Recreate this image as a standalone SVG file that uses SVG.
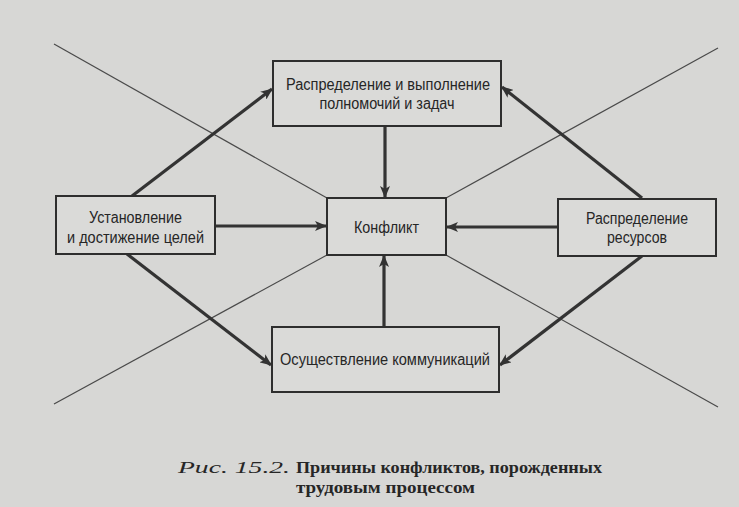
<svg xmlns="http://www.w3.org/2000/svg" width="739" height="507" viewBox="0 0 739 507">
<style>
.bg{fill:#d7d7d5}
.box{fill:#dadad8;stroke:#2e2e2e;stroke-width:2}
.t{font-family:"Liberation Sans","Arial",sans-serif;font-size:16px;fill:#262626;text-anchor:middle}
.x{stroke:#4a4a4a;stroke-width:1.2;fill:none}
.a{stroke:#333;stroke-width:3.2;fill:none;marker-end:url(#ah)}
.cap{font-family:"Liberation Serif","Times New Roman",serif;font-size:16px;fill:#262626}
</style>
<defs>
<marker id="ah" viewBox="0 0 12 10" refX="11" refY="5" markerWidth="12" markerHeight="10" markerUnits="userSpaceOnUse" orient="auto">
<path d="M0,0 L12,5 L0,10 L3,5 Z" fill="#333"/>
</marker>
</defs>
<rect class="bg" x="0" y="0" width="739" height="507"/>
<g id="cross">
<line class="x" x1="54" y1="44" x2="327" y2="198"/>
<line class="x" x1="718" y1="48" x2="446" y2="198"/>
<line class="x" x1="327" y1="255" x2="54" y2="404"/>
<line class="x" x1="446" y1="255" x2="718" y2="407"/>
</g>
<g id="connectors">
<line class="a" x1="132" y1="196" x2="272" y2="89"/>
<line class="a" x1="642" y1="198" x2="502" y2="87"/>
<line class="a" x1="385" y1="126" x2="385" y2="197"/>
<line class="a" x1="215" y1="226" x2="326" y2="226"/>
<line class="a" x1="558" y1="227" x2="447" y2="227"/>
<line class="a" x1="384" y1="327" x2="384" y2="256"/>
<line class="a" x1="127" y1="254" x2="271" y2="365"/>
<line class="a" x1="642" y1="256" x2="500" y2="365"/>
</g>
<g id="node-top">
<rect class="box" x="273" y="61" width="228" height="65"/>
<text class="t" x="388" y="90" textLength="204" lengthAdjust="spacingAndGlyphs">Распределение и выполнение</text>
<text class="t" x="387" y="109" textLength="135" lengthAdjust="spacingAndGlyphs">полномочий и задач</text>
</g>
<g id="node-left">
<rect class="box" x="56" y="196" width="159" height="58"/>
<text class="t" x="135.5" y="223" textLength="93" lengthAdjust="spacingAndGlyphs">Установление</text>
<text class="t" x="135.5" y="243" textLength="137" lengthAdjust="spacingAndGlyphs">и достижение целей</text>
</g>
<g id="node-center">
<rect class="box" x="327" y="198" width="119" height="57"/>
<text class="t" x="386.5" y="233" textLength="65" lengthAdjust="spacingAndGlyphs">Конфликт</text>
</g>
<g id="node-right">
<rect class="box" x="558" y="199" width="158" height="57"/>
<text class="t" x="637" y="224" textLength="102" lengthAdjust="spacingAndGlyphs">Распределение</text>
<text class="t" x="637" y="243" textLength="60" lengthAdjust="spacingAndGlyphs">ресурсов</text>
</g>
<g id="node-bottom">
<rect class="box" x="272" y="327" width="227" height="65"/>
<text class="t" x="385" y="365" textLength="210" lengthAdjust="spacingAndGlyphs">Осуществление коммуникаций</text>
</g>
<g id="caption">
<text class="cap" x="178" y="473" font-style="italic" font-size="17" textLength="112" lengthAdjust="spacingAndGlyphs">Рис. 15.2.</text>
<text class="cap" x="296" y="473" font-weight="bold" textLength="306" lengthAdjust="spacingAndGlyphs">Причины конфликтов, порожденных</text>
<text class="cap" x="296" y="493" font-weight="bold" textLength="179" lengthAdjust="spacingAndGlyphs">трудовым процессом</text>
</g>
</svg>
